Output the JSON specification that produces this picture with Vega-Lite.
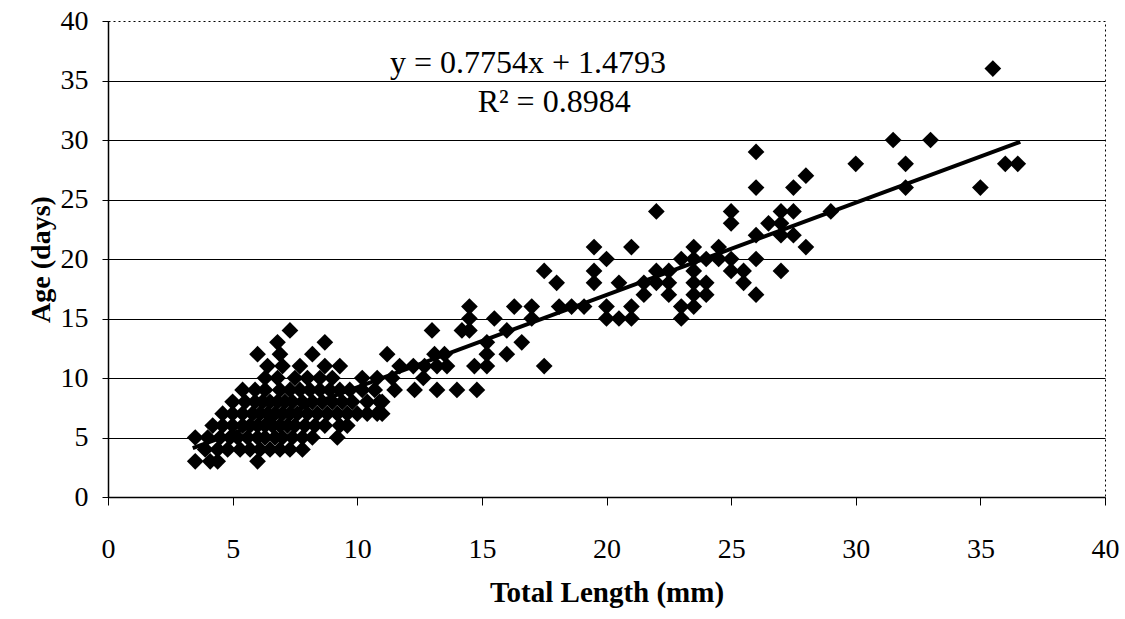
{
  "$schema": "https://vega.github.io/schema/vega-lite/v6.json",
  "width": 997,
  "height": 476,
  "autosize": {"type": "none"},
  "padding": {"left": 108, "top": 21, "right": 20, "bottom": 122},
  "background": "white",
  "config": {
    "view": {"stroke": "black", "strokeDash": [2, 3], "strokeWidth": 1},
    "font": "Liberation Serif"
  },
  "datasets": {
    "pts": [
      {"x":35.5,"y":36},{"x":31.5,"y":30},{"x":33,"y":30},{"x":30,"y":28},{"x":32,"y":28},{"x":36,"y":28},{"x":36.5,"y":28},{"x":32,"y":26},{"x":35,"y":26},
      {"x":26,"y":29},{"x":26,"y":26},{"x":28,"y":27},{"x":27.5,"y":26},{"x":22,"y":24},{"x":25,"y":24},{"x":25,"y":23},{"x":29,"y":24},{"x":27,"y":24},{"x":27.5,"y":24},{"x":26.5,"y":23},{"x":27,"y":23},{"x":27,"y":22},{"x":27.5,"y":22},{"x":26,"y":22},{"x":28,"y":21},{"x":26,"y":20},{"x":27,"y":19},{"x":26,"y":17},
      {"x":23.5,"y":21},{"x":24.5,"y":21},{"x":24.5,"y":20},{"x":25,"y":20},{"x":24,"y":20},{"x":25.5,"y":19},{"x":25,"y":19},{"x":25.5,"y":18},{"x":23,"y":20},{"x":23.5,"y":20},{"x":23.5,"y":19},{"x":23.5,"y":18},{"x":23.5,"y":17},{"x":24,"y":18},{"x":24,"y":17},{"x":23,"y":16},{"x":23.5,"y":16},{"x":23,"y":15},
      {"x":22,"y":19},{"x":22.5,"y":19},{"x":21.5,"y":18},{"x":22,"y":18},{"x":22.5,"y":18},{"x":21.5,"y":17},{"x":22.5,"y":17},{"x":20.5,"y":18},{"x":21,"y":21},{"x":20,"y":20},{"x":21,"y":16},{"x":20,"y":16},{"x":20,"y":15},{"x":20.5,"y":15},{"x":21,"y":15},{"x":19.5,"y":21},{"x":19.5,"y":19},{"x":19.5,"y":18},{"x":17.5,"y":19},{"x":18,"y":18},
      {"x":18.1,"y":16},{"x":18.6,"y":16},{"x":19.1,"y":16},{"x":16.3,"y":16},{"x":17,"y":16},{"x":17,"y":15},{"x":15.5,"y":15},{"x":14.5,"y":16},{"x":14.5,"y":15},{"x":14.2,"y":14},{"x":14.5,"y":14},{"x":13,"y":14},{"x":16,"y":14},{"x":15.2,"y":13},{"x":15.2,"y":12},{"x":15.2,"y":11},{"x":14.7,"y":11},{"x":16,"y":12},{"x":16.6,"y":13},{"x":17.5,"y":11},
      {"x":11.5,"y":9},{"x":12.3,"y":9},{"x":13.2,"y":9},{"x":14,"y":9},{"x":14.8,"y":9},
      {"x":8.7,"y":13},{"x":11.2,"y":12},{"x":13.1,"y":12},{"x":13.5,"y":12},{"x":13.2,"y":11},{"x":13.6,"y":11},{"x":11.7,"y":11},{"x":12.25,"y":11},{"x":12.7,"y":11},{"x":8.7,"y":11},{"x":9.3,"y":11},{"x":10.2,"y":10},{"x":10.8,"y":10},{"x":11.4,"y":10},{"x":12.65,"y":10},{"x":10.2,"y":9},{"x":10.7,"y":9},{"x":10.4,"y":8},{"x":10.9,"y":8},{"x":10.4,"y":7},{"x":10.8,"y":7},{"x":11,"y":7},{"x":11,"y":8},{"x":9.3,"y":6},{"x":9.2,"y":5},{"x":8.8,"y":7},
      {"x":3.5,"y":3},{"x":4.1,"y":3},{"x":4.4,"y":3},{"x":6.0,"y":3},
      {"x":3.9,"y":4},{"x":4.4,"y":4},{"x":4.8,"y":4},{"x":5.3,"y":4},{"x":5.7,"y":4},{"x":6.1,"y":4},{"x":6.5,"y":4},{"x":6.9,"y":4},{"x":7.3,"y":4},{"x":7.8,"y":4},
      {"x":3.5,"y":5},{"x":4.0,"y":5},{"x":4.5,"y":5},{"x":4.9,"y":5},{"x":5.2,"y":5},{"x":5.6,"y":5},{"x":6.0,"y":5},{"x":6.3,"y":5},{"x":6.7,"y":5},{"x":7.0,"y":5},{"x":7.4,"y":5},{"x":7.8,"y":5},{"x":8.2,"y":5},
      {"x":4.2,"y":6},{"x":4.6,"y":6},{"x":5.0,"y":6},{"x":5.4,"y":6},{"x":5.7,"y":6},{"x":6.0,"y":6},{"x":6.3,"y":6},{"x":6.6,"y":6},{"x":6.9,"y":6},{"x":7.2,"y":6},{"x":7.5,"y":6},{"x":7.9,"y":6},{"x":8.3,"y":6},{"x":8.7,"y":6},{"x":9.6,"y":6},
      {"x":4.6,"y":7},{"x":5.0,"y":7},{"x":5.4,"y":7},{"x":5.8,"y":7},{"x":6.1,"y":7},{"x":6.4,"y":7},{"x":6.7,"y":7},{"x":7.0,"y":7},{"x":7.3,"y":7},{"x":7.6,"y":7},{"x":8.0,"y":7},{"x":8.4,"y":7},{"x":9.2,"y":7},{"x":9.6,"y":7},{"x":10.0,"y":7},
      {"x":5.0,"y":8},{"x":5.5,"y":8},{"x":5.9,"y":8},{"x":6.2,"y":8},{"x":6.5,"y":8},{"x":6.8,"y":8},{"x":7.1,"y":8},{"x":7.4,"y":8},{"x":7.8,"y":8},{"x":8.2,"y":8},{"x":8.6,"y":8},{"x":9.0,"y":8},{"x":9.4,"y":8},{"x":9.8,"y":8},
      {"x":5.4,"y":9},{"x":5.9,"y":9},{"x":6.3,"y":9},{"x":6.9,"y":9},{"x":7.3,"y":9},{"x":7.7,"y":9},{"x":8.1,"y":9},{"x":8.5,"y":9},{"x":8.9,"y":9},{"x":9.3,"y":9},{"x":9.7,"y":9},
      {"x":6.3,"y":10},{"x":6.8,"y":10},{"x":7.5,"y":10},{"x":8.0,"y":10},{"x":8.5,"y":10},{"x":9.0,"y":10},
      {"x":6.4,"y":11},{"x":7.0,"y":11},{"x":7.7,"y":11},
      {"x":6.0,"y":12},{"x":6.9,"y":12},{"x":8.2,"y":12},
      {"x":6.8,"y":13},{"x":7.3,"y":14}
    ],
    "trend": [
      {"x": 3.4, "y": 4.1},
      {"x": 36.6, "y": 29.85}
    ],
    "notes": [
      {"x": 16.85, "y": 36.5, "label": "y = 0.7754x + 1.4793"},
      {"x": 17.9, "y": 33.2, "label": "R² = 0.8984"}
    ]
  },
  "encoding": {
    "x": {
      "field": "x", "type": "quantitative",
      "scale": {"domain": [0, 40], "nice": false, "zero": false},
      "axis": {
        "values": [0, 5, 10, 15, 20, 25, 30, 35, 40],
        "title": "Total Length (mm)",
        "grid": false,
        "domainColor": "black", "domainWidth": 1.5,
        "tickColor": "black", "tickSize": 8, "tickWidth": 1,
        "labelFont": "Liberation Serif", "labelFontSize": 28, "labelColor": "black",
        "labelPadding": 30, "labelFlush": false,
        "titleFont": "Liberation Serif", "titleFontSize": 29, "titleFontWeight": "bold", "titleColor": "black",
        "titlePadding": 15
      }
    },
    "y": {
      "field": "y", "type": "quantitative",
      "scale": {"domain": [0, 40], "nice": false, "zero": false},
      "axis": {
        "values": [0, 5, 10, 15, 20, 25, 30, 35, 40],
        "title": "Age (days)",
        "grid": true, "gridColor": "black", "gridWidth": 1,
        "gridOpacity": {"condition": {"test": "datum.value == 0 || datum.value == 40", "value": 0}, "value": 1},
        "domainColor": "black", "domainWidth": 1.5,
        "tickColor": "black", "tickSize": 6, "tickWidth": 1,
        "labelFont": "Liberation Serif", "labelFontSize": 28, "labelColor": "black",
        "labelPadding": 14,
        "titleFont": "Liberation Serif", "titleFontSize": 28, "titleFontWeight": "bold", "titleColor": "black",
        "titlePadding": 5
      }
    }
  },
  "layer": [
    {
      "data": {"name": "pts"},
      "mark": {"type": "point", "shape": "diamond", "filled": true, "color": "black", "size": 280, "opacity": 1}
    },
    {
      "data": {"name": "trend"},
      "mark": {"type": "line", "color": "black", "strokeWidth": 4}
    },
    {
      "data": {"name": "notes"},
      "mark": {"type": "text", "font": "Liberation Serif", "fontSize": 32, "color": "black", "align": "center", "baseline": "middle"},
      "encoding": {"text": {"field": "label", "type": "nominal"}}
    }
  ]
}
